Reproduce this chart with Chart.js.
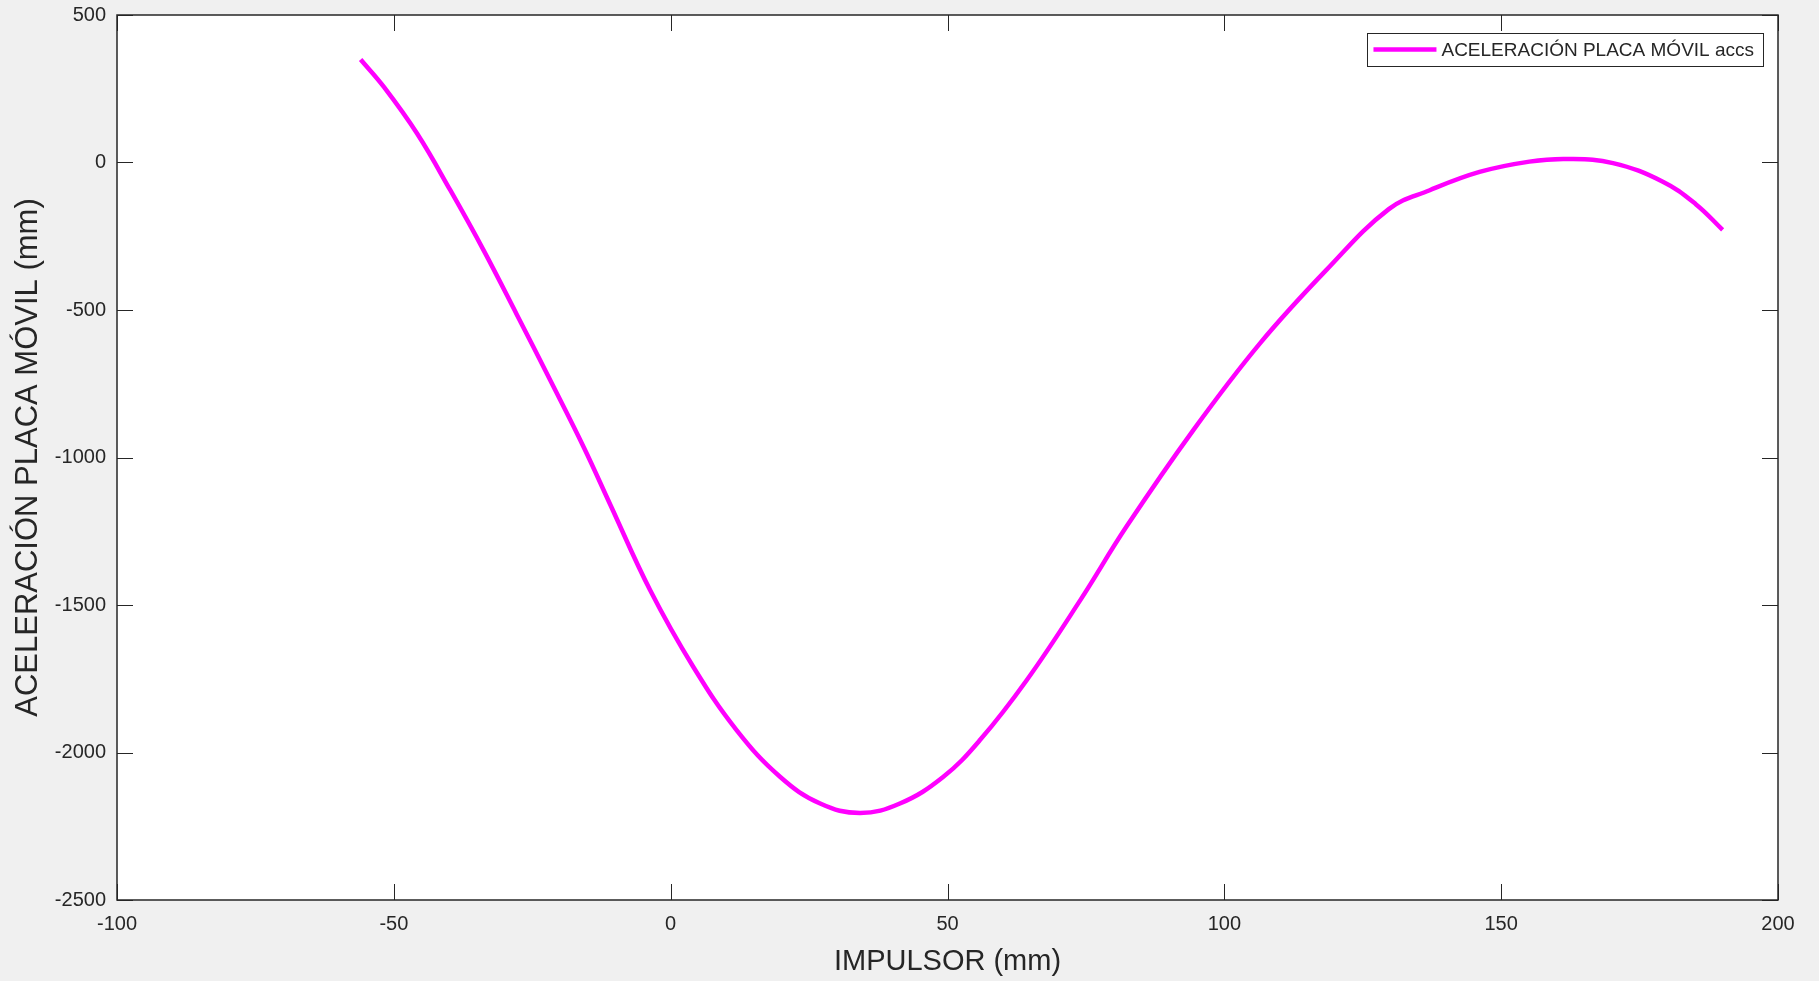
<!DOCTYPE html>
<html>
<head>
<meta charset="utf-8">
<script src="https://cdn.jsdelivr.net/npm/chart.js@4"></script>
<style>
  html, body { margin: 0; padding: 0; background: #f0f0f0; }
  #wrap { width: 1819px; height: 981px; }
</style>
</head>
<body>
<div id="wrap"><canvas id="grafica" width="1819" height="981"></canvas></div>
<script>
// posición del impulsor (mm)
const impulsor = [
  -56, -51.8, -45.8, -39.8, -33.8, -27.8, -21.7, -15.7, -10.9, -3.7,
  4.1, 11.9, 19.8, 27.0, 34.2, 41.4, 49.2, 55.9, 64.3, 73.9,
  82.3, 94.4, 106.4, 118.4, 129.7, 137.1, 146.1, 155.1, 161.8, 170.2,
  179.2, 185.2, 190
];
// aceleración de la placa móvil
const aceleracion = [
  349, 256, 98, -94, -297, -515, -740, -965, -1160, -1450,
  -1710, -1924, -2083, -2173, -2205, -2173, -2083, -1957, -1755, -1486,
  -1235, -907, -614, -365, -158, -94, -32, 3, 12, -2,
  -65, -142, -228
];
const xTicks = [-100, -50, 0, 50, 100, 150, 200];
const yTicks = [-2500, -2000, -1500, -1000, -500, 0, 500];

const puntos = impulsor.map((x, i) => ({ x: x, y: aceleracion[i] }));

const EJE = "#262626";
const FUENTE = "'Liberation Sans', Arial, Helvetica, sans-serif";

// fondo gris, área blanca, caja con marcas hacia dentro y leyenda enmarcada
const marco = {
  id: "marco",
  beforeDraw(chart) {
    const { ctx, chartArea: a } = chart;
    ctx.save();
    ctx.fillStyle = "#f0f0f0";
    ctx.fillRect(0, 0, chart.width, chart.height);
    ctx.fillStyle = "#ffffff";
    ctx.fillRect(a.left, a.top, a.right - a.left, a.bottom - a.top);
    ctx.restore();
  },
  afterDraw(chart) {
    const { ctx, chartArea: a, scales } = chart;
    const largo = 16;
    ctx.save();
    ctx.strokeStyle = EJE;
    ctx.lineWidth = 1;
    ctx.beginPath();
    xTicks.forEach(v => {
      const px = Math.round(scales.x.getPixelForValue(v)) + 0.5;
      ctx.moveTo(px, a.bottom); ctx.lineTo(px, a.bottom - largo);
      ctx.moveTo(px, a.top); ctx.lineTo(px, a.top + largo);
    });
    yTicks.forEach(v => {
      const py = Math.round(scales.y.getPixelForValue(v)) + 0.5;
      ctx.moveTo(a.left, py); ctx.lineTo(a.left + largo, py);
      ctx.moveTo(a.right, py); ctx.lineTo(a.right - largo, py);
    });
    ctx.stroke();
    ctx.lineWidth = 1.5;
    ctx.strokeRect(a.left, a.top, a.right - a.left, a.bottom - a.top);

    // leyenda arriba a la derecha
    const ds = chart.data.datasets[0];
    ctx.font = "19px " + FUENTE;
    const ancho = ctx.measureText(ds.label).width;
    const derecha = Math.round(a.right - 15);
    const finTexto = derecha - 9;
    const iniTexto = finTexto - ancho;
    const finLinea = iniTexto - 5;
    const iniLinea = finLinea - 63;
    const izquierda = Math.round(iniLinea - 6);
    const arriba = Math.round(a.top + 18);
    const cy = arriba + 16.5;
    ctx.fillStyle = "#ffffff";
    ctx.fillRect(izquierda, arriba, derecha - izquierda, 33);
    ctx.lineWidth = 1;
    ctx.strokeStyle = EJE;
    ctx.strokeRect(izquierda + 0.5, arriba + 0.5, derecha - izquierda, 33);
    ctx.strokeStyle = ds.borderColor;
    ctx.lineWidth = ds.borderWidth;
    ctx.beginPath();
    ctx.moveTo(iniLinea, cy);
    ctx.lineTo(finLinea, cy);
    ctx.stroke();
    ctx.fillStyle = EJE;
    ctx.textBaseline = "middle";
    ctx.textAlign = "left";
    ctx.fillText(ds.label, iniTexto, cy + 1);
    ctx.restore();
  }
};

new Chart(document.getElementById("grafica"), {
  type: "line",
  data: {
    datasets: [{
      label: "ACELERACIÓN PLACA MÓVIL accs",
      data: puntos,
      borderColor: "#ff00ff",
      backgroundColor: "#ff00ff",
      borderWidth: 4.5,
      pointRadius: 0,
      fill: false,
      tension: 0.4
    }]
  },
  options: {
    responsive: false,
    animation: false,
    devicePixelRatio: 1,
    layout: { padding: { top: 15, right: 41, left: 0, bottom: 0 } },
    plugins: {
      tooltip: { enabled: false },
      legend: { display: false }
    },
    scales: {
      x: {
        type: "linear",
        min: -100,
        max: 200,
        afterBuildTicks(scale) { scale.ticks = xTicks.map(v => ({ value: v })); },
        afterFit(scale) {
          scale.height = 81;
          scale.paddingLeft = 0;
          scale.paddingRight = 0;
        },
        grid: { display: false, drawTicks: false },
        border: { display: false },
        ticks: {
          color: EJE,
          font: { family: FUENTE, size: 20 },
          padding: 12,
          maxRotation: 0,
          callback: v => String(v)
        },
        title: {
          display: true,
          text: "IMPULSOR (mm)",
          color: EJE,
          font: { family: FUENTE, size: 29 },
          padding: { top: 0, bottom: 2 }
        }
      },
      y: {
        min: -2500,
        max: 500,
        afterBuildTicks(scale) { scale.ticks = yTicks.map(v => ({ value: v })); },
        afterFit(scale) {
          scale.width = 117;
          scale.paddingTop = 0;
          scale.paddingBottom = 0;
        },
        grid: { display: false, drawTicks: false },
        border: { display: false },
        ticks: {
          color: EJE,
          font: { family: FUENTE, size: 20 },
          padding: 11,
          callback: v => String(v)
        },
        title: {
          display: true,
          text: "ACELERACIÓN PLACA MÓVIL (mm)",
          color: EJE,
          font: { family: FUENTE, size: 31 },
          padding: { top: 10, bottom: 0 }
        }
      }
    }
  },
  plugins: [marco]
});
</script>
</body>
</html>
